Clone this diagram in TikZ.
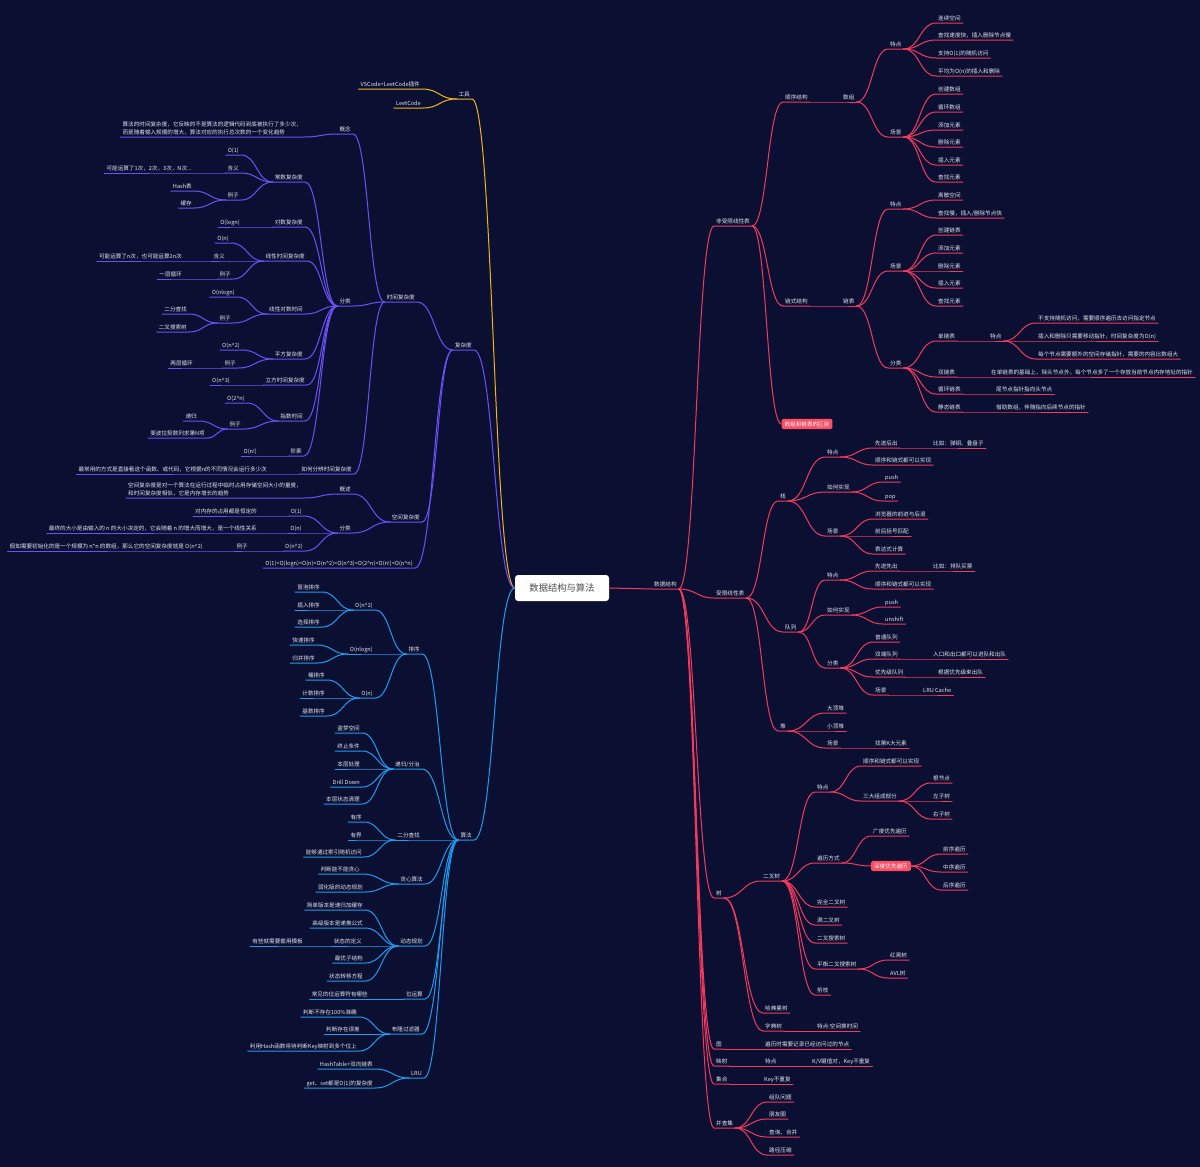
\documentclass[tikz,border=0pt]{standalone}
\usepackage{fontspec}
\setmainfont{Noto Sans CJK SC}
\usetikzlibrary{calc}
\definecolor{bg}{HTML}{0B1033}
\definecolor{txt}{HTML}{E2E5EE}
\definecolor{dsred}{HTML}{F23A5E}
\definecolor{toolyel}{HTML}{F4B41A}
\definecolor{cxpur}{HTML}{6C52F6}
\definecolor{algblue}{HTML}{1E9BEE}
\definecolor{hl}{HTML}{FF4D63}
\newcommand\mmfont{\fontsize{5.6pt}{8pt}\selectfont}
\newcommand\hatc{\textasciicircum}
\tikzset{
  leaf/.style={font=\mmfont,text=txt,inner xsep=2pt,inner ysep=1.6pt,text height=4.8pt,text depth=1.1pt},
  twoline/.style={font=\mmfont,text=txt,inner xsep=2pt,inner ysep=1.6pt,align=left,anchor=south east},
  rn/.style={leaf,anchor=south west},
  ln/.style={leaf,anchor=south east},
  hlbox/.style={font=\mmfont,text=white,fill=hl,rounded corners=1.5pt,inner xsep=3pt,inner ysep=2.5pt},
  rootbox/.style={fill=white,rounded corners=3pt,minimum width=94pt,minimum height=26pt,font=\fontsize{9.3pt}{11pt}\selectfont,text=black!70},
  mmlink/.style={line width=1pt,line cap=round,
    to path={let \p1=(\tikztostart),\p2=(\tikztotarget) in
      .. controls ({(\x1+\x2)/2},\y1) and ({(\x1+\x2)/2},\y2) .. (\tikztotarget)}}
}
\begin{document}
\begin{tikzpicture}[x=1pt,y=-1pt]
  \fill[bg] (0,0) rectangle (1200,1167);
  \useasboundingbox (0,0) rectangle (1200,1167);

  \node[rootbox] (root) at (562,588) {数据结构与算法};

  % data structures
  \node[rn] (ds) at (652,589) {数据结构};
  \node[rn] (fsx) at (714,226) {非受限线性表};
  \node[rn] (sx) at (714,598) {受限线性表};
  \node[rn] (tree) at (714,898) {树};
  \node[rn] (graph) at (714,1049) {图};
  \node[rn] (map) at (714,1066) {映射};
  \node[rn] (set) at (714,1084) {集合};
  \node[rn] (ufs) at (714,1128) {并查集};

  \node[rn] (seq) at (783,102) {顺序结构};
  \node[rn] (chain) at (783,306) {链式结构};
  \node[hlbox] (diff) at (807,424) {数组和链表的区别};

  \node[rn] (arr) at (841,102) {数组};
  \node[rn] (arrF) at (888,49) {特点};
  \node[rn] (arrS) at (888,137) {场景};
  \node[rn] (a1) at (936,23) {连续空间};
  \node[rn] (a2) at (936,40) {查找速度快，插入删除节点慢};
  \node[rn] (a3) at (936,58) {支持O(1)的随机访问};
  \node[rn] (a4) at (936,76) {平均为O(n)的插入和删除};
  \node[rn] (b1) at (936,94) {创建数组};
  \node[rn] (b2) at (936,112) {循环数组};
  \node[rn] (b3) at (936,130) {添加元素};
  \node[rn] (b4) at (936,147) {删除元素};
  \node[rn] (b5) at (936,165) {插入元素};
  \node[rn] (b6) at (936,182) {查找元素};

  \node[rn] (lst) at (841,306) {链表};
  \node[rn] (lstF) at (888,209) {特点};
  \node[rn] (lstS) at (888,271) {场景};
  \node[rn] (lstC) at (888,368) {分类};
  \node[rn] (c1) at (936,200) {离散空间};
  \node[rn] (c2) at (936,218) {查找慢，插入/删除节点快};
  \node[rn] (d1) at (936,235) {创建链表};
  \node[rn] (d2) at (936,253) {添加元素};
  \node[rn] (d3) at (936,271) {删除元素};
  \node[rn] (d4) at (936,288) {插入元素};
  \node[rn] (d5) at (936,306) {查找元素};
  \node[rn] (e1) at (936,341) {单链表};
  \node[rn] (e2) at (936,377) {双链表};
  \node[rn] (e3) at (936,394) {循环链表};
  \node[rn] (e4) at (936,412) {静态链表};
  \node[rn] (e1f) at (988,341) {特点};
  \node[rn] (f1) at (1036,323) {不支持随机访问，需要顺序遍历去访问指定节点};
  \node[rn] (f2) at (1036,341) {插入和删除只需要移动指针，时间复杂度为O(n)};
  \node[rn] (f3) at (1036,359) {每个节点需要额外的空间存储指针，需要的内容比数组大};
  \node[rn] (e2d) at (989,377) {在单链表的基础上，除头节点外，每个节点多了一个存放当前节点内存地址的指针};
  \node[rn] (e3d) at (994,394) {尾节点指针指向头节点};
  \node[rn] (e4d) at (994,412) {借助数组，伴随指向后续节点的指针};

  \node[rn] (stk) at (778,501) {栈};
  \node[rn] (que) at (783,632) {队列};
  \node[rn] (heap) at (778,731) {堆};
  \node[rn] (stkF) at (825,457) {特点};
  \node[rn] (stkH) at (825,492) {如何实现};
  \node[rn] (stkS) at (825,536) {场景};
  \node[rn] (g1) at (873,448) {先进后出};
  \node[rn] (g1d) at (931,448) {比如：弹钥、叠盘子};
  \node[rn] (g2) at (873,465) {顺序和链式都可以实现};
  \node[rn] (h1) at (883,482) {push};
  \node[rn] (h2) at (883,501) {pop};
  \node[rn] (i1) at (873,519) {浏览器的前进与后退};
  \node[rn] (i2) at (873,536) {前后括号匹配};
  \node[rn] (i3) at (873,554) {表达式计算};
  \node[rn] (queF) at (825,580) {特点};
  \node[rn] (queH) at (825,615) {如何实现};
  \node[rn] (queC) at (825,668) {分类};
  \node[rn] (j1) at (873,571) {先进先出};
  \node[rn] (j1d) at (931,571) {比如：排队买票};
  \node[rn] (j2) at (873,589) {顺序和链式都可以实现};
  \node[rn] (k1) at (883,607) {push};
  \node[rn] (k2) at (883,624) {unshift};
  \node[rn] (l1) at (873,642) {普通队列};
  \node[rn] (l2) at (873,659) {双端队列};
  \node[rn] (l3) at (873,677) {优先级队列};
  \node[rn] (l4) at (873,695) {场景};
  \node[rn] (l2d) at (931,659) {入口和出口都可以进队和出队};
  \node[rn] (l3d) at (936,677) {根据优先级来出队};
  \node[rn] (l4d) at (921,695) {LRU Cache};
  \node[rn] (hp1) at (825,713) {大顶堆};
  \node[rn] (hp2) at (825,731) {小顶堆};
  \node[rn] (hp3) at (825,748) {场景};
  \node[rn] (hp3d) at (873,748) {找第K大元素};

  \node[rn] (bt) at (761,881) {二叉树};
  \node[rn] (huff) at (763,1013) {哈弗曼树};
  \node[rn] (trie) at (763,1031) {字典树};
  \node[rn] (btF) at (815,792) {特点};
  \node[rn] (btT) at (815,863) {遍历方式};
  \node[rn] (bt1) at (815,907) {完全二叉树};
  \node[rn] (bt2) at (815,925) {满二叉树};
  \node[rn] (bt3) at (815,943) {二叉搜索树};
  \node[rn] (bt4) at (815,969) {平衡二叉搜索树};
  \node[rn] (bt5) at (815,995) {剪枝};
  \node[rn] (m1) at (861,766) {顺序和链式都可以实现};
  \node[rn] (m2) at (861,801) {三大组成部分};
  \node[rn] (n1) at (931,783) {根节点};
  \node[rn] (n2) at (931,801) {左子树};
  \node[rn] (n3) at (931,819) {右子树};
  \node[rn] (o1) at (871,836) {广度优先遍历};
  \node[hlbox] (o2) at (891,866) {深度优先遍历};
  \node[rn] (p1) at (941,854) {前序遍历};
  \node[rn] (p2) at (941,872) {中序遍历};
  \node[rn] (p3) at (941,890) {后序遍历};
  \node[rn] (q1) at (888,960) {红黑树};
  \node[rn] (q2) at (888,978) {AVL树};
  \node[rn] (trieD) at (815,1031) {特点:空间换时间};
  \node[rn] (graphD) at (763,1049) {遍历时需要记录已经访问过的节点};
  \node[rn] (mapF) at (763,1066) {特点};
  \node[rn] (mapD) at (810,1066) {K/V键值对，Key不重复};
  \node[rn] (setD) at (762,1084) {Key不重复};
  \node[rn] (u1) at (767,1102) {组队问题};
  \node[rn] (u2) at (767,1119) {朋友圈};
  \node[rn] (u3) at (767,1137) {查询、合并};
  \node[rn] (u4) at (767,1155) {路径压缩};

  % tools
  \node[ln] (tool) at (472,99) {工具};
  \node[ln] (t1) at (422,89) {VSCode+LeetCode插件};
  \node[ln] (t2) at (423,108) {LeetCode};

  % complexity
  \node[ln] (cx) at (474,350) {复杂度};
  \node[ln] (tc) at (417,302) {时间复杂度};
  \node[ln] (sc) at (422,522) {空间复杂度};
  \node[ln] (ord) at (415,568) {O(1)<O(logn)<O(n)<O(n\hatc 2)<O(n\hatc 3)<O(2\hatc n)<O(n!)<O(n\hatc n)};
  \node[ln] (tcA) at (353,134) {概念};
  \node[ln] (tcB) at (353,306) {分类};
  \node[ln] (tcC) at (354,474) {如何分辨时间复杂度};
  \node[twoline] (tcAd) at (304,137) {算法的时间复杂度，它反映的不是算法的逻辑代码到底被执行了多少次，\\而是随着输入规模的增大，算法对应的执行总次数的一个变化趋势};
  \node[ln] (r1) at (305,182) {常数复杂度};
  \node[ln] (r2) at (305,227) {对数复杂度};
  \node[ln] (r3) at (307,261) {线性时间复杂度};
  \node[ln] (r4) at (305,314) {线性对数时间};
  \node[ln] (r5) at (305,359) {平方复杂度};
  \node[ln] (r6) at (307,385) {立方时间复杂度};
  \node[ln] (r7) at (305,421) {指数时间};
  \node[ln] (r8) at (304,456) {阶乘};
  \node[ln] (r1a) at (241,155) {O(1)};
  \node[ln] (r1b) at (241,173) {含义};
  \node[ln] (r1c) at (241,200) {例子};
  \node[ln] (r1bd) at (194,173) {可能运算了1次，2次，3次，N次...};
  \node[ln] (r1c1) at (194,191) {Hash表};
  \node[ln] (r1c2) at (194,208) {缓存};
  \node[ln] (r2a) at (242,227) {O(logn)};
  \node[ln] (r3a) at (231,243) {O(n)};
  \node[ln] (r3b) at (227,261) {含义};
  \node[ln] (r3c) at (233,279) {例子};
  \node[ln] (r3bd) at (184,261) {可能运算了n次，也可能运算2n次};
  \node[ln] (r3cd) at (184,279) {一层循环};
  \node[ln] (r4a) at (237,297) {O(nlogn)};
  \node[ln] (r4b) at (233,323) {例子};
  \node[ln] (r4b1) at (189,314) {二分查找};
  \node[ln] (r4b2) at (189,332) {二叉搜索树};
  \node[ln] (r5a) at (242,350) {O(n\hatc 2)};
  \node[ln] (r5b) at (238,368) {例子};
  \node[ln] (r5bd) at (195,368) {两层循环};
  \node[ln] (r6a) at (232,385) {O(n\hatc 3)};
  \node[ln] (r7a) at (247,403) {O(2\hatc n)};
  \node[ln] (r7b) at (243,429) {例子};
  \node[ln] (r7b1) at (199,421) {递归};
  \node[ln] (r7b2) at (207,438) {斐波拉契数列求第N项};
  \node[ln] (r8a) at (259,456) {O(n!)};
  \node[ln] (tcCd) at (269,474) {最常用的方式是直接看这个函数、或代码，它根据n的不同情况会运行多少次};
  \node[ln] (scA) at (353,494) {概述};
  \node[ln] (scB) at (353,533) {分类};
  \node[twoline] (scAd) at (304,498) {空间复杂度是对一个算法在运行过程中临时占用存储空间大小的量度，\\和时间复杂度相似，它是内存增长的趋势};
  \node[ln] (s1) at (304,516) {O(1)};
  \node[ln] (s2) at (304,533) {O(n)};
  \node[ln] (s3) at (305,551) {O(n\hatc 2)};
  \node[ln] (s1d) at (259,516) {对内存的占用都是恒定的};
  \node[ln] (s2d) at (259,533) {最终的大小是由输入的 n 的大小决定的，它会随着 n 的增大而增大，是一个线性关系};
  \node[ln] (s3e) at (250,551) {例子};
  \node[ln] (s3d) at (205,551) {假如需要初始化的是一个规模为 n*n 的数组，那么它的空间复杂度就是 O(n\hatc 2)};

  % algorithms
  \node[ln] (alg) at (474,840) {算法};
  \node[ln] (sort) at (422,654) {排序};
  \node[ln] (rec) at (422,769) {递归/分治};
  \node[ln] (bs) at (422,840) {二分查找};
  \node[ln] (gr) at (425,884) {贪心算法};
  \node[ln] (dp) at (425,946) {动态规划};
  \node[ln] (bit) at (425,999) {位运算};
  \node[ln] (bloom) at (422,1034) {布隆过滤器};
  \node[ln] (lru) at (424,1078) {LRU};
  \node[ln] (so1) at (375,610) {O(n\hatc 2)};
  \node[ln] (so2) at (375,654) {O(nlogn)};
  \node[ln] (so3) at (375,698) {O(n)};
  \node[ln] (v1) at (322,592) {冒泡排序};
  \node[ln] (v2) at (322,610) {插入排序};
  \node[ln] (v3) at (322,627) {选择排序};
  \node[ln] (v4) at (317,645) {快速排序};
  \node[ln] (v5) at (317,663) {归并排序};
  \node[ln] (v6) at (327,680) {桶排序};
  \node[ln] (v7) at (327,698) {计数排序};
  \node[ln] (v8) at (327,716) {基数排序};
  \node[ln] (w1) at (362,733) {盗梦空间};
  \node[ln] (w2) at (362,751) {终止条件};
  \node[ln] (w3) at (362,769) {本层处理};
  \node[ln] (w4) at (362,787) {Drill Down};
  \node[ln] (w5) at (362,804) {本层状态清理};
  \node[ln] (x1) at (364,822) {有序};
  \node[ln] (x2) at (364,840) {有界};
  \node[ln] (x3) at (364,857) {能够通过索引随机访问};
  \node[ln] (y1) at (362,874) {判断能不能贪心};
  \node[ln] (y2) at (365,892) {弱化版的动态规划};
  \node[ln] (z1) at (365,910) {简单版本是递归加缓存};
  \node[ln] (z2) at (365,928) {高级版本是递推公式};
  \node[ln] (z3) at (364,946) {状态的定义};
  \node[ln] (z4) at (365,963) {最优子结构};
  \node[ln] (z5) at (365,981) {状态转移方程};
  \node[ln] (z3d) at (305,946) {有些就需要套用模板};
  \node[ln] (bitd) at (370,999) {常见的位运算符有哪些};
  \node[ln] (bl1) at (359,1017) {判断不存在100\%准确};
  \node[ln] (bl2) at (362,1034) {判断存在误差};
  \node[ln] (bl3) at (359,1051) {利用Hash函数将待判断Key映射到多个位上};
  \node[ln] (lr1) at (375,1069) {HashTable+双向链表};
  \node[ln] (lr2) at (375,1088) {get、set都是O(1)的复杂度};

  % connectors
  \draw[mmlink,draw=dsred] (root.east) to (ds.south west) -- (ds.south east);
  \draw[mmlink,draw=toolyel] (root.west) to (tool.south east) -- (tool.south west);
  \draw[mmlink,draw=cxpur] (root.west) to (cx.south east) -- (cx.south west);
  \draw[mmlink,draw=algblue] (root.west) to (alg.south east) -- (alg.south west);

  \foreach \a/\b in {ds/fsx,ds/sx,ds/tree,ds/graph,ds/map,ds/set,ds/ufs,
      fsx/seq,fsx/chain,seq/arr,arr/arrF,arr/arrS,
      arrF/a1,arrF/a2,arrF/a3,arrF/a4,
      arrS/b1,arrS/b2,arrS/b3,arrS/b4,arrS/b5,arrS/b6,
      chain/lst,lst/lstF,lst/lstS,lst/lstC,lstF/c1,lstF/c2,
      lstS/d1,lstS/d2,lstS/d3,lstS/d4,lstS/d5,
      lstC/e1,lstC/e2,lstC/e3,lstC/e4,e1/e1f,e1f/f1,e1f/f2,e1f/f3,
      e2/e2d,e3/e3d,e4/e4d,
      sx/stk,sx/que,sx/heap,stk/stkF,stk/stkH,stk/stkS,
      stkF/g1,stkF/g2,g1/g1d,stkH/h1,stkH/h2,stkS/i1,stkS/i2,stkS/i3,
      que/queF,que/queH,que/queC,queF/j1,queF/j2,j1/j1d,queH/k1,queH/k2,
      queC/l1,queC/l2,queC/l3,queC/l4,l2/l2d,l3/l3d,l4/l4d,
      heap/hp1,heap/hp2,heap/hp3,hp3/hp3d,
      tree/bt,tree/huff,tree/trie,bt/btF,bt/btT,bt/bt1,bt/bt2,bt/bt3,bt/bt4,bt/bt5,
      btF/m1,btF/m2,m2/n1,m2/n2,m2/n3,btT/o1,bt4/q1,bt4/q2,
      trie/trieD,graph/graphD,map/mapF,mapF/mapD,set/setD,
      ufs/u1,ufs/u2,ufs/u3,ufs/u4}
    \draw[mmlink,draw=dsred] (\a.south east) to (\b.south west) -- (\b.south east);
  \draw[mmlink,draw=dsred] (fsx.south east) to (diff.west);
  \draw[mmlink,draw=dsred] (btT.south east) to (o2.west);
  \foreach \b in {p1,p2,p3}
    \draw[mmlink,draw=dsred] (o2.east) to (\b.south west) -- (\b.south east);

  \foreach \a/\b in {tool/t1,tool/t2}
    \draw[mmlink,draw=toolyel] (\a.south west) to (\b.south east) -- (\b.south west);

  \foreach \a/\b in {cx/tc,cx/sc,cx/ord,tc/tcA,tc/tcB,tc/tcC,tcA/tcAd,
      tcB/r1,tcB/r2,tcB/r3,tcB/r4,tcB/r5,tcB/r6,tcB/r7,tcB/r8,
      r1/r1a,r1/r1b,r1/r1c,r1b/r1bd,r1c/r1c1,r1c/r1c2,r2/r2a,
      r3/r3a,r3/r3b,r3/r3c,r3b/r3bd,r3c/r3cd,
      r4/r4a,r4/r4b,r4b/r4b1,r4b/r4b2,r5/r5a,r5/r5b,r5b/r5bd,r6/r6a,
      r7/r7a,r7/r7b,r7b/r7b1,r7b/r7b2,r8/r8a,tcC/tcCd,
      sc/scA,sc/scB,scA/scAd,scB/s1,scB/s2,scB/s3,s1/s1d,s2/s2d,s3/s3e,s3e/s3d}
    \draw[mmlink,draw=cxpur] (\a.south west) to (\b.south east) -- (\b.south west);

  \foreach \a/\b in {alg/sort,alg/rec,alg/bs,alg/gr,alg/dp,alg/bit,alg/bloom,alg/lru,
      sort/so1,sort/so2,sort/so3,so1/v1,so1/v2,so1/v3,so2/v4,so2/v5,so3/v6,so3/v7,so3/v8,
      rec/w1,rec/w2,rec/w3,rec/w4,rec/w5,bs/x1,bs/x2,bs/x3,gr/y1,gr/y2,
      dp/z1,dp/z2,dp/z3,dp/z4,dp/z5,z3/z3d,bit/bitd,
      bloom/bl1,bloom/bl2,bloom/bl3,lru/lr1,lru/lr2}
    \draw[mmlink,draw=algblue] (\a.south west) to (\b.south east) -- (\b.south west);
\end{tikzpicture}
\end{document}
